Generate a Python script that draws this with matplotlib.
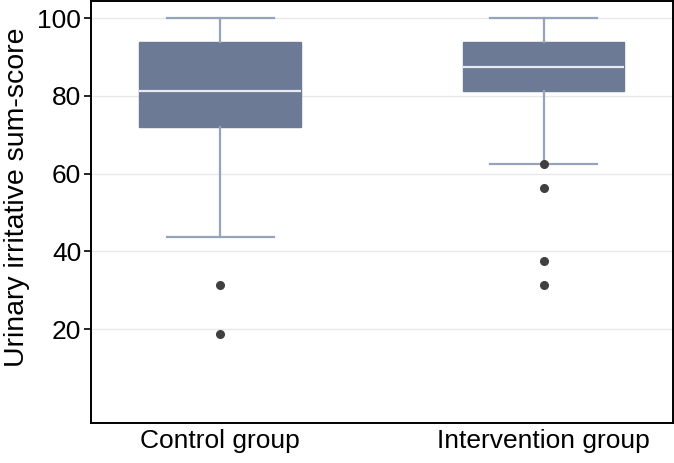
import matplotlib.pyplot as plt

plt.rcParams['font.family'] = ['Liberation Sans', 'DejaVu Sans']

groups = ['Control group', 'Intervention group']
whislo = [43.75, 62.5]
q1 = [71.875, 81.25]
med = [81.25, 87.5]
q3 = [93.75, 93.75]
whishi = [100, 100]
outliers = [[31.25, 18.75], [62.5, 56.25, 37.5, 31.25]]

stats = []
for i in range(len(groups)):
    stats.append(dict(label=groups[i], whislo=whislo[i], q1=q1[i], med=med[i],
                      q3=q3[i], whishi=whishi[i], fliers=outliers[i]))

fig = plt.figure(figsize=(6.74, 4.63), dpi=100)
ax = fig.add_axes([0.135, 0.0864, 0.8635, 0.9116])

box_col = '#6d7a96'
line_col = '#97a3ba'
ax.bxp(stats, positions=[1, 2], widths=0.5, patch_artist=True,
       boxprops=dict(facecolor=box_col, edgecolor=box_col, linewidth=1),
       medianprops=dict(color='#e8ebf2', linewidth=1.6),
       whiskerprops=dict(color=line_col, linewidth=1.6),
       capprops=dict(color=line_col, linewidth=1.6),
       capwidths=0.33,
       flierprops=dict(marker='o', markersize=5.5, markerfacecolor='#404040',
                       markeredgecolor='#404040'))

ax.set_xlim(0.6, 2.4)
ax.set_ylim(-4.1, 104.4)
ax.set_yticks([20, 40, 60, 80, 100])
ax.yaxis.grid(True, color='#e8e8e8', linewidth=1)
ax.set_axisbelow(True)
ax.tick_params(axis='y', labelsize=19, length=5, width=1.2, pad=2)
ax.tick_params(axis='x', labelsize=19, length=0, pad=4)
ax.set_ylabel('Urinary irritative sum-score', fontsize=20.5)
ax.yaxis.set_label_coords(-0.104, 0.535)
for s in ax.spines.values():
    s.set_linewidth(1.4)

plt.savefig('out.png', dpi=100)
